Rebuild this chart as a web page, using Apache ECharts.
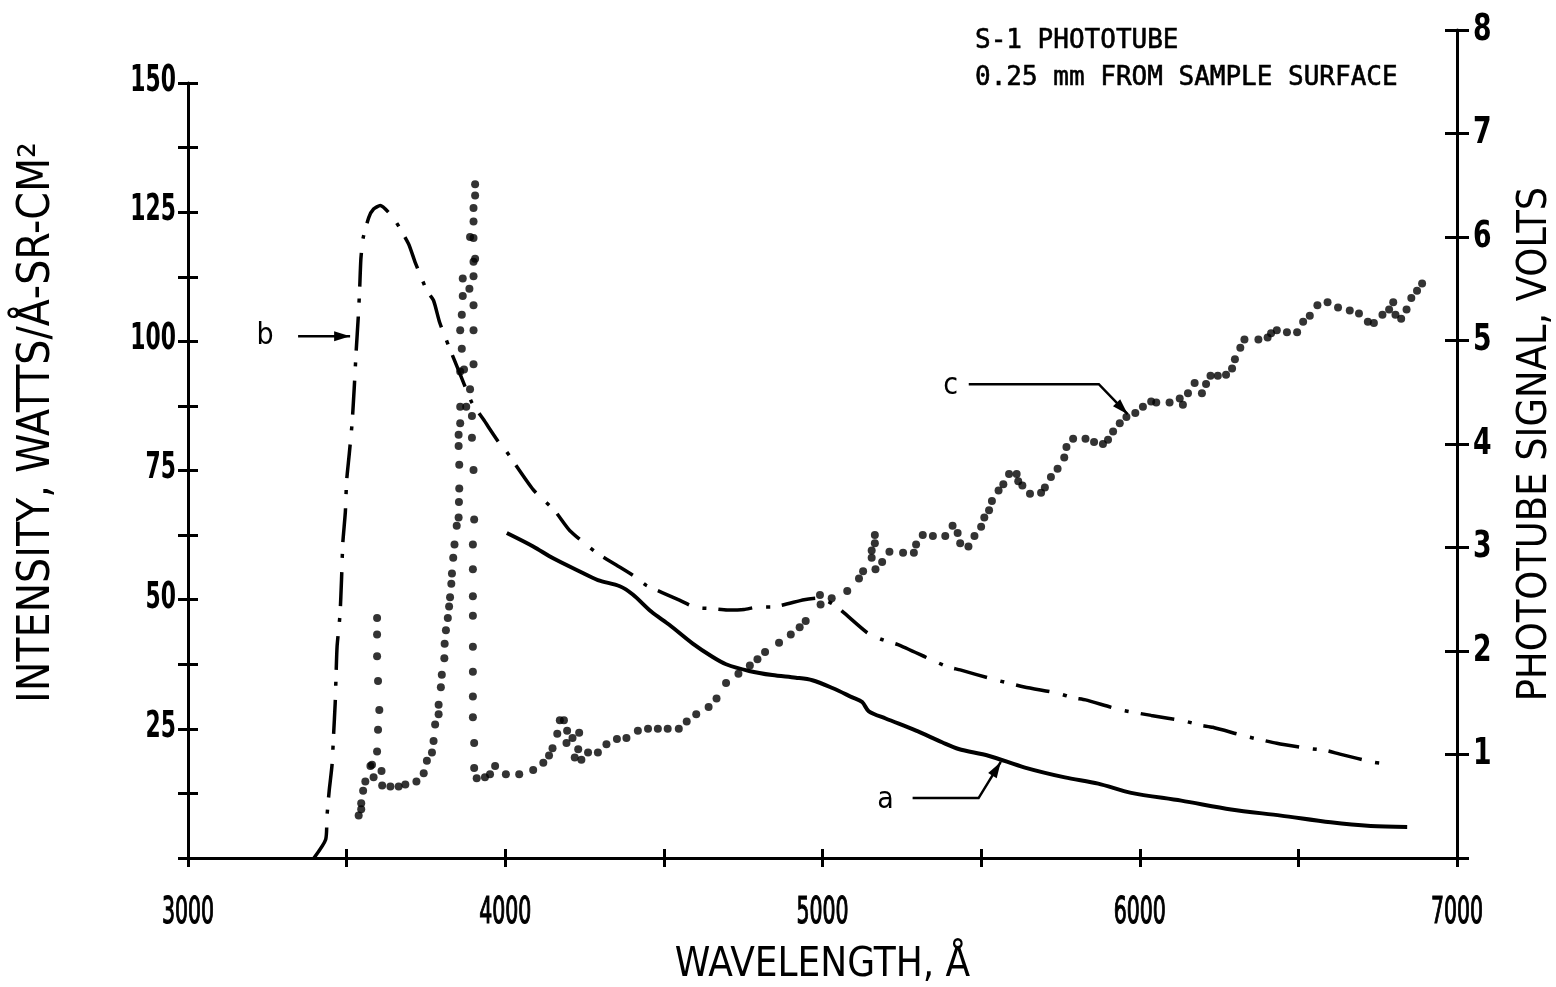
<!DOCTYPE html>
<html><head><meta charset="utf-8">
<script src="https://cdn.jsdelivr.net/npm/echarts@6/dist/echarts.min.js"></script>
<style>html,body{margin:0;padding:0;background:#fff}#c{width:1556px;height:987px}</style>
</head><body><div id="c"></div>
<script>
// ---- tick labels ----
const xTickLabels = [3000, 4000, 5000, 6000, 7000];
const leftTickLabels = [25, 50, 75, 100, 125, 150];
const rightTickLabels = [1, 2, 3, 4, 5, 6, 7, 8];

// ---- curve a (intensity, solid) ----
const aWave = [4005,4088,4151,4230,4292,4361,4402,4460,4518,4591,4654,4696,4769,4842,4916,4968,5031,5094,5125,5146,5199,5293,5377,5429,5523,5638,5764,5869,5973,6131,6288,6445,6602,6728,6843];
const aIntensity = [62.9,60.3,58.0,55.6,53.8,52.6,51.0,47.7,45.1,41.5,38.9,37.5,36.2,35.4,34.9,34.4,32.9,31.1,30.2,28.4,27.0,24.7,22.4,21.1,19.8,17.5,15.6,14.4,12.6,11.1,9.4,8.2,6.9,6.2,6.0];

// ---- curve b (intensity, dash-dot) ----
const bWave = [3397,3434,3438,3445,3454,3459,3464,3467,3470,3479,3484,3488,3496,3500,3508,3517,3524,3530,3537,3541,3545,3552,3570,3585,3606,3648,3695,3716,3753,3774,3793,3821,3858,3895,3931,3978,4000,4088,4156,4203,4287,4350,4405,4444,4549,4599,4643,4700,4753,4798,4840,4942,4990,5041,5141,5191,5238,5335,5394,5434,5532,5636,5741,5790,5829,5937,6036,6141,6191,6230,6338,6432,6534,6588,6631,6740,6789];
const bIntensity = [0,3.6,8,13,18,24,30,36,41,47,54,61,67,73,78,84,91,98,105,110,116,120,124,125.6,126.3,123.8,118.9,115.3,109.8,107.9,103.7,99.2,93.6,88.1,84.9,80.6,79.0,71.3,67.2,63.4,59.1,56.7,54.6,52.8,49.9,48.5,48.3,48.0,48.1,48.6,48.6,50.0,50.3,48.8,43.6,42.2,41.3,38.6,37.0,36.4,34.7,33.1,31.9,31.0,30.6,28.7,27.6,26.5,25.7,25.3,23.5,22.2,21.2,20.8,20.1,18.5,18.2];

// ---- curve c (phototube signal, volts, dots) ----
const cWave = [3538,3546,3546,3552,3559,3575,3580,3585,3596,3599,3603,3599,3596,3596,3596,3610,3612,3638,3664,3685,3720,3743,3753,3769,3774,3779,3790,3790,3797,3800,3808,3809,3813,3819,3823,3826,3830,3832,3836,3840,3847,3853,3854,3855,3855,3853,3853,3858,3858,3877,3858,3870,3900,3863,3858,3863,3866,3866,3887,3900,3900,3905,3900,3889,3900,3900,3905,3905,3900,3900,3889,3895,3895,3900,3902,3898,3898,3898,3898,3898,3898,3898,3898,3902,3902,3910,3936,3952,3968,4002,4044,4088,4120,4138,4149,4164,4172,4185,4195,4193,4212,4233,4230,4219,4240,4261,4292,4319,4352,4382,4418,4450,4481,4512,4547,4572,4602,4641,4666,4696,4735,4771,4795,4819,4863,4900,4928,4947,4994,4992,5029,5078,5115,5128,5167,5188,5155,5155,5165,5165,5211,5254,5288,5295,5316,5348,5387,5410,5426,5434,5460,5479,5500,5510,5525,5534,5555,5570,5588,5612,5617,5630,5654,5689,5701,5720,5741,5762,5769,5790,5829,5856,5884,5900,5916,5937,5958,5986,6010,6036,6052,6094,6126,6136,6152,6173,6196,6209,6223,6246,6272,6291,6300,6317,6330,6374,6403,6414,6432,6464,6496,6515,6536,6560,6592,6625,6662,6691,6719,6738,6765,6786,6799,6806,6824,6841,6856,6874,6890];
const cVolts = [0.41,0.47,0.53,0.65,0.74,0.89,0.90,0.78,1.03,1.24,1.43,1.71,1.95,2.16,2.32,0.84,0.70,0.69,0.69,0.71,0.74,0.82,0.94,1.02,1.13,1.29,1.39,1.48,1.65,1.77,1.93,2.07,2.20,2.32,2.43,2.52,2.65,2.75,2.90,3.03,3.21,3.29,3.44,3.57,3.80,3.98,4.09,4.20,4.36,4.36,4.70,4.72,4.77,4.92,5.10,5.25,5.43,5.60,5.50,5.62,5.76,5.79,5.99,6.00,6.15,6.28,6.40,6.51,5.34,5.10,4.53,4.27,4.06,3.75,3.27,3.03,2.79,2.53,2.34,2.04,1.80,1.56,1.36,1.11,0.87,0.77,0.78,0.81,0.89,0.81,0.81,0.85,0.92,0.99,1.06,1.20,1.33,1.33,1.23,1.11,1.16,1.21,1.05,0.97,0.95,1.02,1.02,1.10,1.15,1.16,1.23,1.25,1.25,1.25,1.25,1.32,1.39,1.46,1.54,1.69,1.78,1.86,1.92,1.99,2.08,2.16,2.23,2.29,2.45,2.54,2.51,2.58,2.70,2.77,2.79,2.86,2.90,2.97,3.04,3.12,2.96,2.95,2.95,3.03,3.12,3.11,3.11,3.21,3.14,3.04,3.01,3.11,3.20,3.29,3.36,3.45,3.55,3.61,3.71,3.71,3.64,3.60,3.52,3.53,3.58,3.68,3.76,3.87,3.97,4.05,4.05,4.02,4.00,4.04,4.12,4.20,4.26,4.30,4.36,4.41,4.40,4.40,4.44,4.38,4.49,4.59,4.49,4.58,4.66,4.66,4.67,4.73,4.82,4.93,5.01,5.01,5.03,5.07,5.10,5.08,5.08,5.18,5.24,5.34,5.37,5.32,5.29,5.26,5.18,5.17,5.25,5.30,5.37,5.25,5.21,5.30,5.41,5.48,5.55];

// ---- curve labels with leader arrows (data coordinates, left axis) ----
const curveLabels = ['a', 'b', 'c'];
const labelAt = [[5199, 11.2], [3243, 101.0], [5404, 91.3]];
const leaderPaths = [
  [[5284, 11.6], [5492, 11.6], [5562, 18.6]],
  [[3347, 101.0], [3511, 101.0]],
  [[5461, 91.7], [5871, 91.7], [5962, 85.9]]
];
const noteLines = ['S-1 PHOTOTUBE', '0.25 mm FROM SAMPLE SURFACE'];

const zip = (xs, ys) => xs.map((x, i) => [x, ys[i]]);
const NARROW = "'Liberation Sans Narrow','DejaVu Sans Condensed','Liberation Sans',sans-serif";
const BLK = '#000';

const chart = echarts.init(document.getElementById('c'), null, {renderer: 'canvas'});
const G = {left: 188, right: 99, bottom: 129, containLabel: false, outerBoundsMode: 'none'};
const baseX = {type: 'value', min: 3000, max: 7000, interval: 500, splitLine: {show: false}};
const option = {
  backgroundColor: '#fff',
  animation: false,
  grid: [
    Object.assign({top: 83}, G),
    Object.assign({top: 30}, G)
  ],
  xAxis: [
    Object.assign({}, baseX, {
      gridIndex: 0, position: 'bottom',
      axisLine: {lineStyle: {color: BLK, width: 3}},
      axisTick: {show: true, length: 9, lineStyle: {color: BLK, width: 3}},
      axisLabel: {show: false},
      name: 'WAVELENGTH, \u00C5', nameLocation: 'middle', nameGap: 88,
      nameTextStyle: {color: BLK, fontSize: 40, fontFamily: NARROW}
    }),
    Object.assign({}, baseX, {
      gridIndex: 0, position: 'bottom',
      axisLine: {show: false},
      axisTick: {show: true, inside: true, length: 9, lineStyle: {color: BLK, width: 3}},
      axisLabel: {show: false}
    }),
    Object.assign({}, baseX, {gridIndex: 1, show: false})
  ],
  yAxis: [
    {
      type: 'value', gridIndex: 0, position: 'left', min: 0, max: 150, interval: 12.5,
      splitLine: {show: false},
      axisLine: {show: true, lineStyle: {color: BLK, width: 3}},
      axisTick: {show: true, length: 10, lineStyle: {color: BLK, width: 3}},
      axisLabel: {show: false},
      name: 'INTENSITY, WATTS/\u00C5-SR-CM\u00B2', nameLocation: 'middle', nameGap: 128, nameRotate: 90,
      nameTextStyle: {color: BLK, fontSize: 44, fontFamily: NARROW, padding: [0, 0, 0, 96]}
    },
    {
      type: 'value', gridIndex: 0, position: 'left', min: 0, max: 150, interval: 12.5,
      splitLine: {show: false}, axisLine: {show: false},
      axisTick: {show: true, inside: true, length: 10, lineStyle: {color: BLK, width: 3}},
      axisLabel: {show: false}
    },
    {
      type: 'value', gridIndex: 1, position: 'right', min: 0, max: 8, interval: 1,
      splitLine: {show: false},
      axisLine: {show: true, lineStyle: {color: BLK, width: 3}},
      axisTick: {show: true, length: 12, lineStyle: {color: BLK, width: 3}},
      axisLabel: {show: false},
      name: 'PHOTOTUBE SIGNAL, VOLTS', nameLocation: 'middle', nameGap: 58, nameRotate: 90,
      nameTextStyle: {color: BLK, fontSize: 41, fontFamily: NARROW}
    },
    {
      type: 'value', gridIndex: 1, position: 'right', min: 0, max: 8, interval: 1,
      splitLine: {show: false}, axisLine: {show: false},
      axisTick: {show: true, inside: true, length: 12, lineStyle: {color: BLK, width: 3}},
      axisLabel: {show: false}
    }
  ],
  series: [
    {
      name: 'a', type: 'line', xAxisIndex: 0, yAxisIndex: 0, data: zip(aWave, aIntensity),
      showSymbol: false, smooth: 0.3, lineStyle: {color: BLK, width: 4}
    },
    {
      name: 'b', type: 'line', xAxisIndex: 0, yAxisIndex: 0, data: zip(bWave, bIntensity),
      showSymbol: false, smooth: 0.2,
      lineStyle: {color: BLK, width: 3.5, type: [34, 14, 4, 12], cap: 'butt'}
    },
    {
      name: 'c', type: 'scatter', xAxisIndex: 2, yAxisIndex: 2, data: zip(cWave, cVolts),
      symbol: 'circle', symbolSize: 8, itemStyle: {color: BLK}
    }
  ]
};
chart.setOption(option);

// tick labels (narrow lettering, placed through the axes' scales), curve letters, arrows, notes
function buildGraphics() {
  const els = [];
  const px = p => chart.convertToPixel({xAxisIndex: 0, yAxisIndex: 0}, p);
  const pxR = p => chart.convertToPixel({xAxisIndex: 2, yAxisIndex: 2}, p);
  const y0 = px([3000, 0])[1];
  const xLeft = px([3000, 0])[0];
  const xRight = pxR([7000, 0])[0];
  xTickLabels.forEach(v => {
    els.push({type: 'text', x: px([v, 0])[0], y: y0 + 55, scaleX: 0.6,
      style: {text: String(v), x: 0, y: 0, fill: BLK, stroke: BLK, lineWidth: 1.2,
        font: "38px 'DejaVu Sans Condensed',sans-serif",
        textAlign: 'center', textVerticalAlign: 'middle'}});
  });
  leftTickLabels.forEach(v => {
    els.push({type: 'text', x: xLeft - 12, y: px([3000, v])[1] - 2, scaleX: 0.64,
      style: {text: String(v), x: 0, y: 0, fill: BLK, font: "bold 38px 'DejaVu Sans Condensed',sans-serif",
        textAlign: 'right', textVerticalAlign: 'middle'}});
  });
  rightTickLabels.forEach(v => {
    els.push({type: 'text', x: xRight + 16, y: pxR([7000, v])[1], scaleX: 0.78,
      style: {text: String(v), x: 0, y: 0, fill: BLK, font: "bold 38px 'DejaVu Sans Condensed',sans-serif",
        textAlign: 'left', textVerticalAlign: 'middle'}});
  });
  curveLabels.forEach((t, i) => {
    const p = px(labelAt[i]);
    els.push({type: 'text', x: p[0], y: p[1], style: {text: t, fill: BLK, font: "30px " + NARROW,
      textAlign: 'center', textVerticalAlign: 'middle'}});
    const pts = leaderPaths[i].map(px);
    els.push({type: 'polyline', shape: {points: pts}, style: {stroke: BLK, lineWidth: 2.5, fill: null}});
    const a = pts[pts.length - 1], b = pts[pts.length - 2];
    const dx = a[0] - b[0], dy = a[1] - b[1], L = Math.hypot(dx, dy);
    const ux = dx / L, uy = dy / L, len = 16, w = 5;
    els.push({type: 'polygon', shape: {points: [
      a, [a[0] - ux * len - uy * w, a[1] - uy * len + ux * w], [a[0] - ux * len + uy * w, a[1] - uy * len - ux * w]
    ]}, style: {fill: BLK}});
  });
  noteLines.forEach((t, i) => {
    els.push({type: 'text', x: 975, y: 41 + i * 37, style: {text: t, fill: BLK, stroke: BLK, lineWidth: 0.6,
      font: "26px 'DejaVu Sans Mono','Liberation Mono',monospace", textVerticalAlign: 'middle'}});
  });
  chart.setOption({graphic: els});
}
buildGraphics();
</script>
</body></html>
